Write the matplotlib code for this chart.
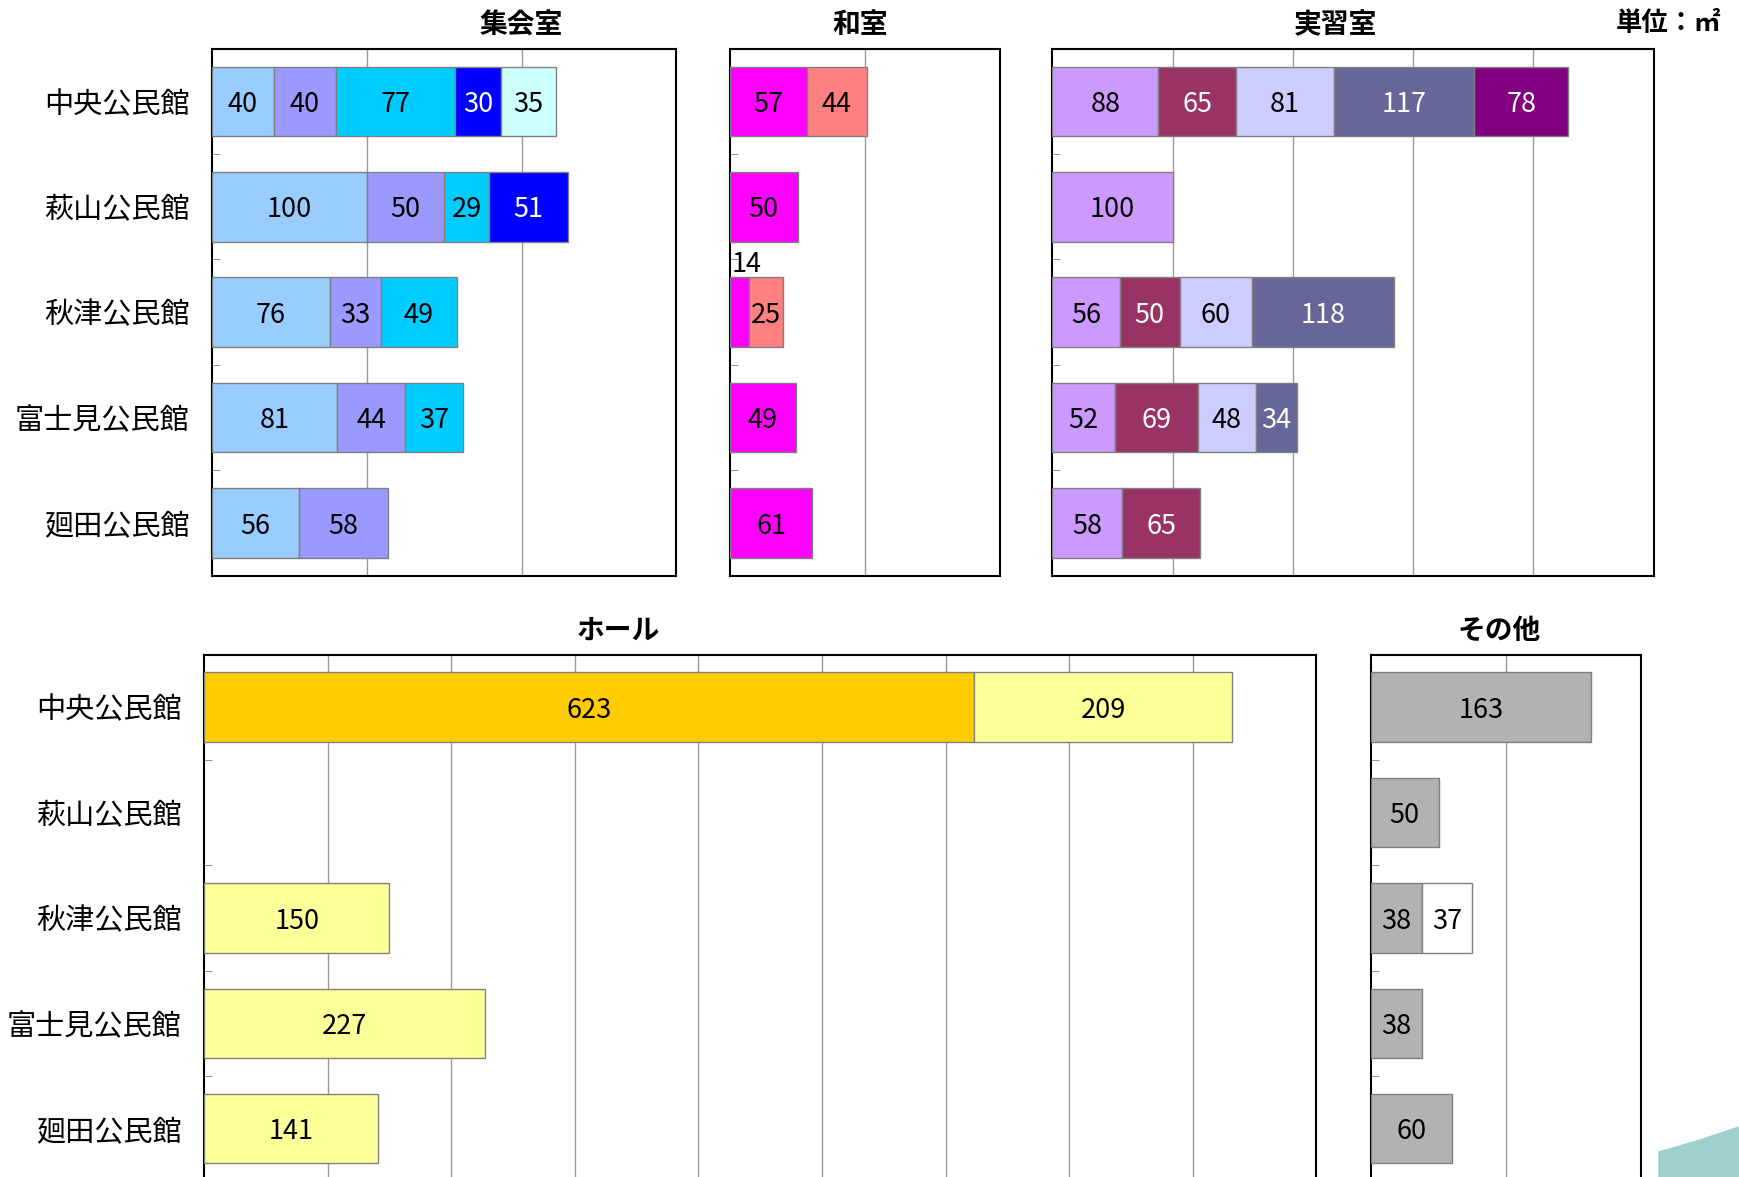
import numpy as np
import matplotlib.pyplot as plt
from matplotlib.patches import Polygon

plt.rcParams['font.family'] = ['Noto Sans CJK JP', 'DejaVu Sans']

halls = ['中央公民館', '萩山公民館', '秋津公民館', '富士見公民館', '廻田公民館']

# 集会室 (one list per colour series, one value per hall, 0 = none)
shukai_values = [
    [40, 100, 76, 81, 56],
    [40, 50, 33, 44, 58],
    [77, 29, 49, 37, 0],
    [30, 51, 0, 0, 0],
    [35, 0, 0, 0, 0],
]
shukai_colors = ['#99CCFF', '#9999FF', '#00CCFF', '#0000FF', '#CCFFFF']

# 和室
washitsu_values = [
    [57, 50, 14, 49, 61],
    [44, 0, 25, 0, 0],
]
washitsu_colors = ['#FF00FF', '#FF8080']

# 実習室
jisshu_values = [
    [88, 100, 56, 52, 58],
    [65, 0, 50, 69, 65],
    [81, 0, 60, 48, 0],
    [117, 0, 118, 34, 0],
    [78, 0, 0, 0, 0],
]
jisshu_colors = ['#CC99FF', '#993366', '#CCCCFF', '#666699', '#800080']

# ホール
hall_values = [
    [623, 0, 0, 0, 0],
    [209, 0, 150, 227, 141],
]
hall_colors = ['#FFCC00', '#FFFF99']

# その他
other_values = [
    [163, 50, 38, 38, 60],
    [0, 0, 37, 0, 0],
]
other_colors = ['#B2B2B2', '#FFFFFF']

dark_fills = {'#0000FF', '#993366', '#666699', '#800080'}

fig = plt.figure(figsize=(17.39, 11.77), dpi=100)


def panel(rect, title, title_x, values, colors, xmax, show_labels=False):
    ax = fig.add_axes(rect)
    y = np.arange(len(halls))
    left = np.zeros(len(halls))
    for vals, col in zip(values, colors):
        vals = np.array(vals, dtype=float)
        m = vals > 0
        ax.barh(y[m], vals[m], left=left[m], height=0.66, color=col,
                edgecolor='#808080', linewidth=1, zorder=3)
        tc = 'white' if col in dark_fills else 'black'
        for yi, v, l in zip(y[m], vals[m], left[m]):
            if v < 20:
                # too narrow, label sits above the bar
                ax.text(l + 1, yi - 0.45, f'{v:.0f}', ha='left', va='center',
                        fontsize=19.5, color='black', zorder=4)
            else:
                ax.text(l + v / 2, yi + 0.03, f'{v:.0f}', ha='center', va='center',
                        fontsize=19.5, color=tc, zorder=4)
        left += vals

    ax.set_xlim(0, xmax)
    ax.set_ylim(4.5, -0.5)
    ax.set_xticks(np.arange(100, xmax, 100))
    ax.grid(axis='x', color='#999999', linewidth=1, zorder=0)
    ax.tick_params(axis='x', length=0, labelbottom=False)
    ax.set_yticks(y)
    ax.set_yticklabels(halls if show_labels else [])
    ax.set_yticks(np.arange(-0.5, 4, 1), minor=True)
    ax.tick_params(axis='y', which='major', length=0, pad=16, labelsize=21)
    ax.tick_params(axis='y', which='minor', direction='in', length=6,
                   color='#808080')
    for s in ax.spines.values():
        s.set_linewidth(1.5)
        s.set_color('black')
    ax.text(title_x, 1.045, title, transform=ax.transAxes, ha='center',
            va='center', fontsize=20, fontweight='bold')
    return ax


panel([0.1218, 0.5110, 0.2672, 0.4476], '集会室', 0.665, shukai_values, shukai_colors, 300, True)
panel([0.4197, 0.5110, 0.1556, 0.4476], '和室', 0.483, washitsu_values, washitsu_colors, 200)
panel([0.6052, 0.5110, 0.3457, 0.4476], '実習室', 0.47, jisshu_values, jisshu_colors, 500)
panel([0.1173, -0.0037, 0.6397, 0.4476], 'ホール', 0.372, hall_values, hall_colors, 900, True)
panel([0.7883, -0.0037, 0.1556, 0.4476], 'その他', 0.476, other_values, other_colors, 200)

fig.text(0.990, 0.980, '単位：㎡', ha='right', va='center', fontsize=19,
         fontweight='bold')

# slide background corner
W, H = 1739, 1177
corner = [(1659, 1177), (1659, 1152), (1700, 1140), (1739, 1127), (1739, 1177)]
fig.patches.append(Polygon([(x / W, 1 - y / H) for x, y in corner], closed=True,
                           transform=fig.transFigure, color='#9FCFCF', zorder=0))

fig.savefig('out.png', dpi=100)
